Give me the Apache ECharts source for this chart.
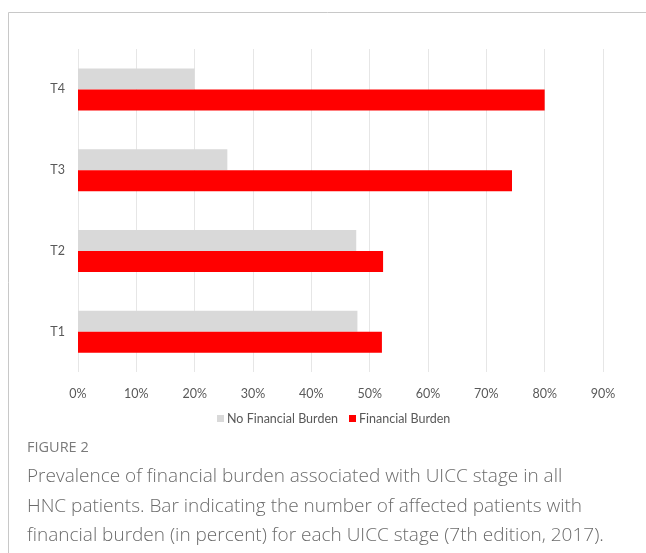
<!DOCTYPE html>
<html>
<head>
<meta charset="utf-8">
<script src="https://cdn.jsdelivr.net/npm/echarts@6/dist/echarts.min.js"></script>
<style>
  html, body { margin: 0; padding: 0; background: #fff; }
  #chart { width: 646px; height: 553px; }
</style>
</head>
<body>
<div id="chart"></div>
<script>
// UICC T stage categories (bottom to top)
const stages = ['T1', 'T2', 'T3', 'T4'];
// Share of patients per stage, as fractions
const noFinancialBurden = [0.479, 0.477, 0.256, 0.200];
const financialBurden = [0.521, 0.523, 0.744, 0.800];
// Axis ticks
const tickStep = 0.1;
const tickMax = 0.9;

const seriesNames = ['No Financial Burden', 'Financial Burden'];
const seriesColors = ['#d9d9d9', '#ff0000'];

const captionTitle = 'FIGURE 2';
const captionLines = [
  'Prevalence of financial burden associated with UICC stage in all',
  'HNC patients. Bar indicating the number of affected patients with',
  'financial burden (in percent) for each UICC stage (7th edition, 2017).'
];

const chart = echarts.init(document.getElementById('chart'), null, { renderer: 'canvas' });
const axisFont = 'Lato, "Open Sans", sans-serif';
const textColor = '#595959';

chart.setOption({
  animation: false,
  backgroundColor: '#ffffff',
  grid: { left: 78, right: 43, top: 49, bottom: 181, containLabel: false },
  legend: {
    data: seriesNames,
    top: 407,
    left: 212,
    itemWidth: 7,
    itemHeight: 7,
    itemGap: 11,
    icon: 'rect',
    textStyle: { color: textColor, fontSize: 12.5, fontFamily: axisFont, padding: [0, 0, 0, -2] }
  },
  xAxis: {
    type: 'value',
    min: 0,
    max: tickMax,
    interval: tickStep,
    axisLine: { show: false },
    axisTick: { show: false },
    splitLine: { show: true, lineStyle: { color: '#e6e6e6', width: 1 } },
    axisLabel: {
      color: textColor,
      fontSize: 12.5,
      fontFamily: axisFont,
      margin: 15,
      formatter: v => Math.round(v * 100) + '%'
    }
  },
  yAxis: {
    type: 'category',
    data: stages,
    axisLine: { show: false },
    axisTick: { show: false },
    axisLabel: { color: textColor, fontSize: 12.5, fontFamily: axisFont, margin: 13 }
  },
  series: [
    {
      name: seriesNames[0],
      type: 'bar',
      data: noFinancialBurden,
      barWidth: 21,
      barGap: '0%',
      itemStyle: { color: seriesColors[0] }
    },
    {
      name: seriesNames[1],
      type: 'bar',
      data: financialBurden,
      barWidth: 21,
      barGap: '0%',
      itemStyle: { color: seriesColors[1] }
    }
  ],
  graphic: [
    // Frame lines along the top and left edges
    { type: 'line', shape: { x1: 8.5, y1: 12.5, x2: 646, y2: 12.5 }, style: { stroke: '#c8c8c8', lineWidth: 1 } },
    { type: 'line', shape: { x1: 8.5, y1: 12.5, x2: 8.5, y2: 553 }, style: { stroke: '#c8c8c8', lineWidth: 1 } },
    {
      type: 'text', left: 27, top: 440,
      style: { text: captionTitle, fill: '#7a7a7a', font: '14.5px "Open Sans", sans-serif' }
    },
    {
      type: 'text', left: 27, top: 462,
      style: {
        text: captionLines.join('\n'),
        fill: '#6b6b6b',
        font: '300 19px "Open Sans", sans-serif',
        lineHeight: 29.5
      }
    }
  ]
});
</script>
</body>
</html>
